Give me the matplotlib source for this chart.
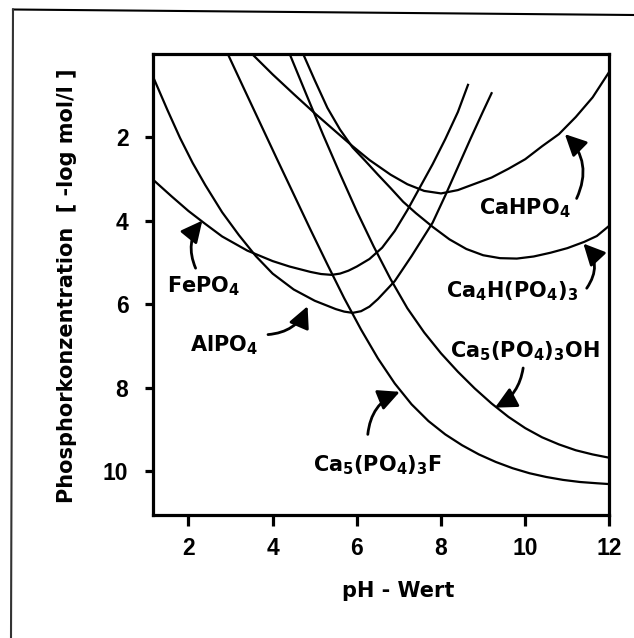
import matplotlib
matplotlib.use("Agg")
import matplotlib.pyplot as plt
from matplotlib.lines import Line2D

# Löslichkeitskurven (pH, -log mol/l)
fepo4_x = [1.17, 1.6, 2.0, 2.4, 2.8, 3.4, 4.0, 4.4, 4.9, 5.15, 5.4, 5.6, 5.8, 6.0, 6.3, 6.6, 6.9, 7.2, 7.5, 7.8, 8.1, 8.4, 8.64]
fepo4_y = [3.03, 3.42, 3.77, 4.08, 4.38, 4.72, 4.97, 5.10, 5.23, 5.28, 5.30, 5.27, 5.20, 5.10, 4.92, 4.65, 4.25, 3.75, 3.20, 2.65, 2.05, 1.40, 0.75]

alpo4_x = [1.17, 1.5, 1.8, 2.1, 2.4, 2.8, 3.2, 3.6, 4.0, 4.5, 5.0, 5.5, 5.7, 5.9, 6.1, 6.3, 6.5, 6.9, 7.3, 7.8, 8.1, 8.4, 8.7, 9.0, 9.2]
alpo4_y = [0.58, 1.35, 2.02, 2.62, 3.15, 3.80, 4.35, 4.85, 5.27, 5.65, 5.92, 6.12, 6.18, 6.21, 6.17, 6.06, 5.88, 5.45, 4.85, 4.05, 3.40, 2.72, 2.04, 1.38, 0.95]

cahpo4_x = [3.50, 4.0, 4.5, 5.0, 5.5, 5.9, 6.3, 6.8, 7.2, 7.6, 8.0, 8.4, 8.8, 9.2, 9.6, 10.0, 10.4, 10.8, 11.2, 11.6, 12.0]
cahpo4_y = [0.0, 0.50, 0.97, 1.43, 1.87, 2.22, 2.55, 2.90, 3.13, 3.29, 3.35, 3.27, 3.12, 2.97, 2.76, 2.53, 2.22, 1.93, 1.52, 1.05, 0.43]

ca4h_x = [4.72, 5.0, 5.3, 5.6, 5.9, 6.2, 6.5, 6.8, 7.1, 7.4, 7.8, 8.2, 8.6, 9.0, 9.4, 9.8, 10.2, 10.6, 11.0, 11.4, 11.7, 12.0]
ca4h_y = [0.0, 0.64, 1.30, 1.82, 2.25, 2.57, 2.90, 3.22, 3.55, 3.82, 4.15, 4.45, 4.68, 4.83, 4.90, 4.91, 4.86, 4.77, 4.66, 4.51, 4.37, 4.12]

oh_x = [4.40, 4.8, 5.2, 5.6, 6.0, 6.4, 6.8, 7.2, 7.6, 8.0, 8.4, 8.8, 9.2, 9.6, 10.0, 10.4, 10.8, 11.2, 11.6, 12.0]
oh_y = [0.0, 0.98, 1.95, 2.88, 3.78, 4.62, 5.40, 6.10, 6.68, 7.18, 7.62, 8.02, 8.38, 8.70, 8.97, 9.19, 9.36, 9.50, 9.60, 9.68]

f_x = [2.93, 3.3, 3.7, 4.1, 4.5, 4.9, 5.3, 5.7, 6.1, 6.5, 6.9, 7.3, 7.7, 8.1, 8.5, 8.9, 9.3, 9.7, 10.1, 10.5, 10.9, 11.3, 11.7, 12.0]
f_y = [0.0, 0.80, 1.66, 2.52, 3.37, 4.22, 5.05, 5.86, 6.61, 7.30, 7.90, 8.40, 8.80, 9.12, 9.38, 9.60, 9.78, 9.93, 10.05, 10.14, 10.21, 10.26, 10.29, 10.31]

curves = [(fepo4_x, fepo4_y), (alpo4_x, alpo4_y), (cahpo4_x, cahpo4_y),
          (ca4h_x, ca4h_y), (oh_x, oh_y), (f_x, f_y)]

# Beschriftungen: Text, Textmitte, Pfeilanfang, Pfeilspitze, Krümmung
labels = [
    ("CaHPO$_4$", (9.99, 3.71), (11.22, 3.47), (10.94, 1.93), 0.35),
    ("Ca$_4$H(PO$_4$)$_3$", (9.69, 5.68), (11.46, 5.62), (11.38, 4.55), 0.4),
    ("FePO$_4$", (2.35, 5.56), (2.17, 5.14), (2.33, 4.0), -0.3),
    ("AlPO$_4$", (2.85, 6.98), (3.89, 6.73), (4.83, 6.05), 0.3),
    ("Ca$_5$(PO$_4$)$_3$OH", (9.99, 7.13), (9.95, 7.53), (9.28, 8.48), -0.25),
    ("Ca$_5$(PO$_4$)$_3$F", (6.48, 9.86), (6.26, 9.12), (7.02, 8.10), -0.3),
]

x_ticks = [2, 4, 6, 8, 10, 12]
y_ticks = [2, 4, 6, 8, 10]

plt.rcParams['font.family'] = 'Liberation Sans'
plt.rcParams['font.weight'] = 'bold'
plt.rcParams['mathtext.default'] = 'bf'

fig = plt.figure(figsize=(6.34, 6.38), dpi=100)
ax = fig.add_axes([0.2421, 0.1928, 0.7192, 0.7233])

for cx, cy in curves:
    ax.plot(cx, cy, color='black', lw=1.6)

for txt, pos, tail, tip, rad in labels:
    ax.text(pos[0], pos[1], txt, ha='center', va='center', fontsize=15,
            family='DejaVu Sans', fontweight='bold')
    ax.annotate('', xy=tip, xytext=tail,
                arrowprops=dict(arrowstyle='-|>,head_length=0.65,head_width=0.32',
                                connectionstyle='arc3,rad=%s' % rad,
                                color='black', lw=2.0, mutation_scale=20,
                                shrinkA=0, shrinkB=0))

ax.set_xlim(1.17, 12.0)
ax.set_ylim(11.05, 0.0)
ax.set_xticks(x_ticks)
ax.set_yticks(y_ticks)
for sp in ax.spines.values():
    sp.set_linewidth(2.3)
ax.tick_params(axis='x', direction='out', length=8, width=2.3, pad=8, labelsize=16.5)
ax.tick_params(axis='y', direction='out', length=6, width=2.3, pad=12, labelsize=16.5)

ax.text(0.537, -0.165, 'pH - Wert', transform=ax.transAxes, ha='center', va='center',
        fontsize=15, family='DejaVu Sans', fontweight='bold')
ax.text(-0.19, 0.497, 'Phosphorkonzentration  [ -log mol/l ]', transform=ax.transAxes,
        rotation=90, ha='center', va='center', fontsize=15, family='DejaVu Sans',
        fontweight='bold')

# Rahmen des gescannten Bildes
W, H = 634.0, 638.0
fig.add_artist(Line2D([13 / W, 1.0], [1 - 9.5 / H, 1 - 15 / H], color='black', lw=1.5))
fig.add_artist(Line2D([13 / W, 11 / W], [1 - 9.5 / H, 0.0], color='#333333', lw=1.5))

fig.savefig('out.png', dpi=100)
